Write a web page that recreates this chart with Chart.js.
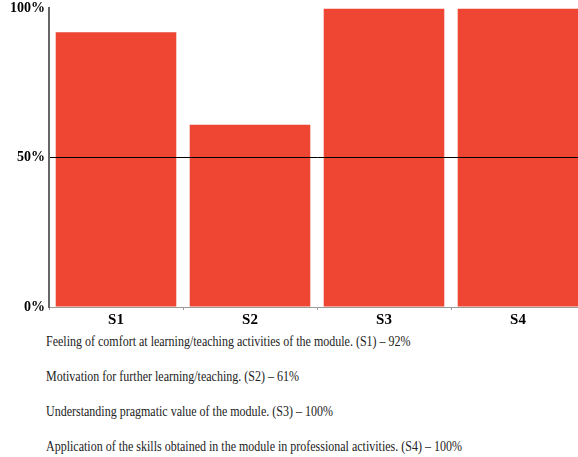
<!DOCTYPE html>
<html>
<head>
<meta charset="utf-8">
<script src="https://cdn.jsdelivr.net/npm/chart.js@4/dist/chart.umd.min.js"></script>
<style>
  html, body { margin: 0; padding: 0; background: #fff; overflow: hidden; width: 578px; height: 457px; }
  #wrap { position: absolute; left: 0; top: -4px; }
  .note { position: absolute; left: 46px; font-family: "Liberation Serif", serif; font-size: 15px; color: #222; white-space: nowrap; transform: scaleX(0.8); transform-origin: left center; }
</style>
</head>
<body>
<div id="wrap"><canvas id="bars" width="585" height="334"></canvas></div>
<div class="note" style="top:333px">Feeling of comfort at learning/teaching activities of the module. (S1) – 92%</div>
<div class="note" style="top:368px">Motivation for further learning/teaching. (S2) – 61%</div>
<div class="note" style="top:403px">Understanding pragmatic value of the module. (S3) – 100%</div>
<div class="note" style="top:438px">Application of the skills obtained in the module in professional activities. (S4) – 100%</div>
<script>
var categories = ['S1', 'S2', 'S3', 'S4'];
var values = [92, 61, 100, 100];
var yTicks = [0, 50, 100];

var ctx = document.getElementById('bars');
var chart = new Chart(ctx, {
  type: 'bar',
  data: {
    labels: categories,
    datasets: [{
      data: values,
      backgroundColor: '#ee4632',
      borderWidth: 0,
      categoryPercentage: 1,
      barPercentage: 0.9
    }]
  },
  options: {
    responsive: false,
    animation: false,
    layout: { padding: { top: 1, right: 0, left: 0, bottom: 0 } },
    plugins: { legend: { display: false }, tooltip: { enabled: false } },
    scales: {
      x: {
        grid: { drawOnChartArea: false, color: '#999', tickLength: 3 },
        border: { color: '#999', width: 1 },
        ticks: { color: '#000', padding: 1, font: { family: 'Liberation Serif', size: 15, weight: 'bold' } }
      },
      y: {
        min: 0,
        max: 100,
        afterFit: function(scale) { scale.width = 49; },
        afterBuildTicks: function(scale) {
          scale.ticks = yTicks.map(function(v) { return { value: v }; });
        },
        grid: {
          z: 1,
          color: function(c) { return c.tick && c.tick.value === 50 ? '#000' : 'rgba(0,0,0,0)'; },
          lineWidth: 1,
          drawTicks: false
        },
        border: { color: '#666', width: 2, z: 1 },
        ticks: {
          color: '#000',
          padding: 4,
          font: { family: 'Liberation Serif', size: 14, weight: 'bold' },
          callback: function(v) { return v + '%'; }
        }
      }
    }
  }
});
</script>
</body>
</html>
